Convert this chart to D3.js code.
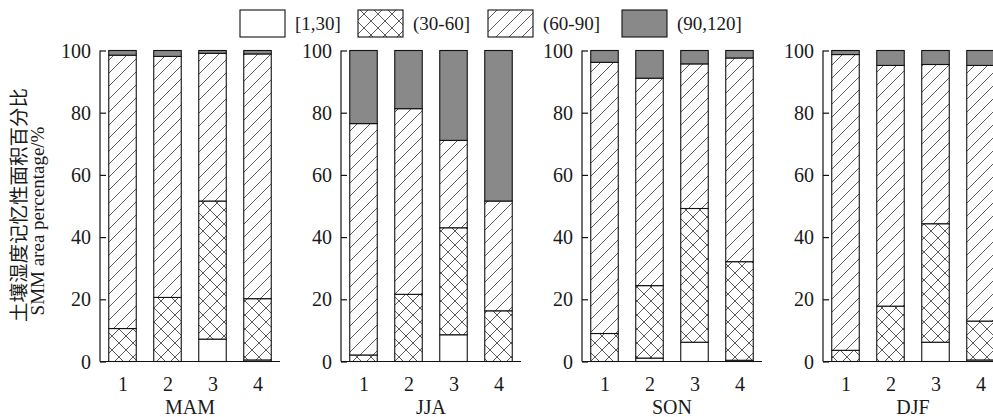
<!DOCTYPE html>
<html><head><meta charset="utf-8">
<script src="https://cdn.jsdelivr.net/npm/d3@7"></script>
<style>
html,body{margin:0;padding:0;background:#fff;}
svg{display:block;}
text{font-family:"Liberation Serif","Times New Roman",serif;fill:#1a1a1a;}
</style></head>
<body><svg id="c" width="993" height="417"></svg>
<script>
// ---- data ----
const seasons = ["MAM", "JJA", "SON", "DJF"];
const categories = ["1", "2", "3", "4"];
const seriesNames = ["[1,30]", "(30-60]", "(60-90]", "(90,120]"];
// values per season, per category (1..4)
const s1_30   = { MAM: [0, 0, 7.2, 0.5], JJA: [0, 0, 8.6, 0], SON: [0, 1.1, 6.2, 0.4], DJF: [0, 0, 6.2, 0.5] };
const s30_60  = { MAM: [10.6, 20.6, 44.4, 19.7], JJA: [2.1, 21.6, 34.4, 16.3], SON: [9.0, 23.3, 43.0, 31.7], DJF: [3.6, 17.8, 38.1, 12.5] };
const s60_90  = { MAM: [87.9, 77.5, 47.5, 78.7], JJA: [74.4, 59.7, 28.1, 35.3], SON: [87.2, 66.7, 46.5, 65.5], DJF: [95.1, 77.4, 51.2, 82.2] };
const s90_120 = { MAM: [1.5, 1.9, 0.9, 1.1], JJA: [23.5, 18.7, 28.9, 48.4], SON: [3.8, 8.9, 4.3, 2.4], DJF: [1.3, 4.8, 4.5, 4.8] };
const yTicks = [0, 20, 40, 60, 80, 100];
const yTitleZh = "土壤湿度记忆性面积百分比";
const yTitleEn = "SMM area percentage/%";

const svg = d3.select("#c");
const defs = svg.append("defs");

// patterns
const cross = defs.append("pattern").attr("id", "cross").attr("patternUnits", "userSpaceOnUse")
  .attr("width", 14).attr("height", 14);
cross.append("rect").attr("width", 14).attr("height", 14).attr("fill", "#fff");
cross.append("path").attr("d", "M0,0L14,14M14,0L0,14M-1,13L1,15M13,-1L15,1")
  .attr("stroke", "#333").attr("stroke-width", 0.8);
const D = 13;
const diag = defs.append("pattern").attr("id", "diag").attr("patternUnits", "userSpaceOnUse")
  .attr("width", D).attr("height", D);
diag.append("rect").attr("width", D).attr("height", D).attr("fill", "#fff");
diag.append("path").attr("d", `M0,${D}L${D},0M-2,2L2,-2M${D - 2},${D + 2}L${D + 2},${D - 2}`)
  .attr("stroke", "#333").attr("stroke-width", 0.8);

const fills = ["#ffffff", "url(#cross)", "url(#diag)", "#898989"];

const panelX = d3.scalePoint().domain(seasons).range([100, 823]);
const panelW = 180;
const y = d3.scaleLinear().domain([0, 100]).range([361.5, 50.5]);
const barW = 27.5;

seasons.forEach(season => {
  const x0 = panelX(season);
  const x = d3.scalePoint().domain(categories).range([x0, x0 + panelW]).padding(0.5);
  const g = svg.append("g");
  const rows = categories.map((c, i) => ({
    cat: c,
    [seriesNames[0]]: s1_30[season][i],
    [seriesNames[1]]: s30_60[season][i],
    [seriesNames[2]]: s60_90[season][i],
    [seriesNames[3]]: s90_120[season][i]
  }));
  const stacked = d3.stack().keys(seriesNames)(rows);
  stacked.forEach((layer, k) => {
    g.selectAll(null).data(layer.filter(d => d[1] - d[0] > 0)).enter().append("rect")
      .attr("x", d => x(d.data.cat) - barW / 2)
      .attr("width", barW)
      .attr("y", d => y(d[1]))
      .attr("height", d => y(d[0]) - y(d[1]))
      .attr("fill", fills[k])
      .attr("stroke", "#111").attr("stroke-width", 1.1);
  });

  // y axis (ticks inward)
  const yAxis = d3.axisRight(y).tickValues(yTicks).tickSize(6).tickFormat("");
  const ya = g.append("g").attr("transform", `translate(${x0},0)`).call(yAxis);
  ya.select(".domain").attr("stroke", "#111").attr("stroke-width", 1.2).attr("d", `M0,${y(0)}V${y(100)}`);
  ya.selectAll(".tick line").attr("stroke", "#111").attr("stroke-width", 1.2);
  g.selectAll(null).data(yTicks).enter().append("text")
    .attr("x", x0 - 9).attr("y", d => y(d)).attr("dy", "0.35em")
    .attr("text-anchor", "end").attr("font-size", 20).text(d => d);

  // x axis
  const xAxis = d3.axisBottom(x).tickSize(0).tickPadding(15);
  const xa = g.append("g").attr("transform", `translate(0,${y(0)})`).call(xAxis);
  xa.select(".domain").attr("stroke", "#111").attr("stroke-width", 1.2).attr("d", `M${x0},0H${x0 + panelW}`);
  xa.selectAll(".tick text").attr("font-size", 20).attr("font-family", "Liberation Serif").attr("fill", "#1a1a1a");
  g.append("text").attr("x", x0 + panelW / 2).attr("y", 414).attr("text-anchor", "middle")
    .attr("font-size", 20).text(season);
});

// y titles
svg.append("text").attr("transform", "translate(26,205) rotate(-90)")
  .attr("text-anchor", "middle").attr("font-size", 19.5)
  .style("font-family", '"Noto Sans CJK SC", sans-serif').text(yTitleZh);
svg.append("text").attr("transform", "translate(44,221) rotate(-90)")
  .attr("text-anchor", "middle").attr("font-size", 19).text(yTitleEn);

// legend
const legend = svg.append("g");
seriesNames.forEach((s, k) => {
  const lx = [240, 358, 488, 622][k];
  legend.append("rect").attr("x", lx).attr("y", 10).attr("width", 45).attr("height", 27)
    .attr("fill", fills[k]).attr("stroke", "#111").attr("stroke-width", 1.1);
  legend.append("text").attr("x", lx + 55).attr("y", 30).attr("font-size", 19).text(s);
});
</script></body></html>
